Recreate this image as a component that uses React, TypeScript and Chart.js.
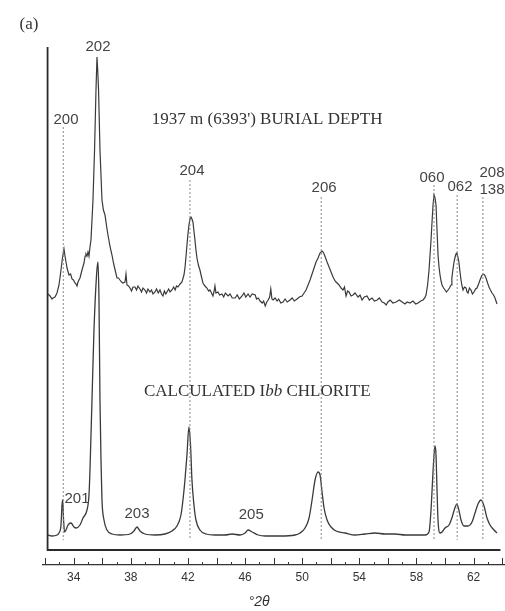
import { useEffect, useRef } from 'react';
import { Chart, registerables } from 'chart.js';

Chart.register(...registerables);

// ---- data (°2θ, relative intensity) ----
const thetaTicks = [34, 38, 42, 46, 50, 54, 58, 62];

const burialDepthPattern: [number, number][] = [
  [32.20, 256], [32.34, 254], [32.48, 251], [32.55, 252], [32.69, 253], [32.83, 257], [32.97, 265],
  [33.11, 280], [33.22, 293], [33.32, 301], [33.39, 294], [33.46, 288], [33.55, 281], [33.67, 275],
  [33.78, 276], [33.88, 271], [33.98, 270], [34.09, 267], [34.16, 266], [34.23, 264], [34.30, 268],
  [34.44, 272], [34.58, 280], [34.72, 287], [34.80, 294], [34.86, 296], [34.93, 294], [35.00, 298],
  [35.07, 294], [35.14, 303], [35.21, 310], [35.28, 330], [35.35, 350], [35.46, 400], [35.56, 460],
  [35.63, 493], [35.68, 480], [35.74, 460], [35.84, 400], [35.98, 350], [36.08, 340], [36.19, 335],
  [36.30, 324], [36.40, 315], [36.55, 303], [36.68, 295], [36.80, 286], [36.90, 280], [37.03, 272],
  [37.14, 272], [37.24, 270], [37.35, 268], [37.45, 267], [37.59, 268], [37.66, 276], [37.73, 265],
  [37.84, 264], [37.94, 262], [38.05, 259], [38.15, 263], [38.29, 263], [38.40, 260], [38.50, 264],
  [38.64, 261], [38.75, 258], [38.85, 262], [38.99, 260], [39.10, 257], [39.20, 261], [39.34, 258],
  [39.45, 260], [39.55, 256], [39.69, 258], [39.80, 261], [39.92, 257], [40.04, 260], [40.15, 256],
  [40.25, 254], [40.35, 259], [40.45, 256], [40.53, 258], [40.65, 261], [40.75, 258], [40.88, 260],
  [41.00, 263], [41.10, 260], [41.20, 264], [41.30, 263], [41.45, 266], [41.58, 268], [41.72, 275],
  [41.79, 282], [41.86, 293], [41.93, 305], [42.00, 316], [42.07, 325], [42.14, 331], [42.21, 333],
  [42.28, 331], [42.35, 328], [42.42, 319], [42.49, 310], [42.56, 300], [42.63, 292], [42.73, 285],
  [42.84, 280], [42.95, 273], [43.05, 267], [43.19, 264], [43.33, 262], [43.45, 259], [43.54, 260],
  [43.65, 257], [43.75, 254], [43.82, 258], [43.89, 264], [43.96, 257], [44.10, 258], [44.22, 255],
  [44.38, 256], [44.50, 253], [44.62, 257], [44.81, 254], [44.95, 256], [45.10, 252], [45.30, 252],
  [45.45, 255], [45.60, 251], [45.79, 254], [45.92, 257], [46.05, 253], [46.21, 256], [46.35, 253],
  [46.50, 256], [46.71, 255], [46.80, 251], [46.92, 252], [47.05, 249], [47.20, 247], [47.30, 249],
  [47.41, 244], [47.52, 248], [47.62, 250], [47.72, 253], [47.80, 261], [47.88, 251], [47.96, 250],
  [48.10, 252], [48.24, 249], [48.35, 251], [48.50, 247], [48.66, 248], [48.80, 251], [48.95, 248],
  [49.15, 250], [49.30, 252], [49.45, 249], [49.64, 251], [49.80, 253], [49.99, 254], [50.13, 257],
  [50.27, 260], [50.41, 265], [50.55, 270], [50.69, 276], [50.83, 282], [50.97, 288], [51.11, 292],
  [51.25, 297], [51.39, 299], [51.46, 298], [51.53, 296], [51.64, 292], [51.74, 288], [51.88, 283],
  [52.02, 278], [52.16, 273], [52.30, 269], [52.44, 267], [52.58, 265], [52.72, 262], [52.86, 260],
  [52.96, 263], [53.07, 254], [53.18, 259], [53.28, 258], [53.42, 254], [53.56, 255], [53.70, 257],
  [53.91, 253], [54.05, 255], [54.19, 250], [54.35, 253], [54.54, 254], [54.70, 250], [54.89, 252],
  [55.05, 249], [55.25, 250], [55.40, 252], [55.60, 248], [55.75, 247], [55.88, 245], [56.00, 248],
  [56.16, 250], [56.35, 247], [56.58, 248], [56.80, 250], [57.00, 248], [57.20, 246], [57.35, 248],
  [57.55, 247], [57.75, 249], [57.95, 246], [58.11, 247], [58.30, 249], [58.46, 250], [58.58, 252],
  [58.67, 255], [58.78, 265], [58.88, 280], [58.95, 295], [59.02, 310], [59.09, 328], [59.16, 345],
  [59.23, 355], [59.30, 352], [59.37, 345], [59.44, 320], [59.51, 295], [59.58, 283], [59.65, 275],
  [59.72, 269], [59.79, 265], [59.90, 262], [60.00, 260], [60.10, 258], [60.21, 260], [60.31, 262],
  [60.42, 265], [60.48, 272], [60.55, 280], [60.62, 287], [60.69, 292], [60.76, 296], [60.83, 297],
  [60.90, 293], [60.97, 288], [61.05, 278], [61.12, 270], [61.19, 264], [61.26, 260], [61.36, 263],
  [61.47, 262], [61.54, 258], [61.61, 257], [61.71, 262], [61.82, 260], [61.92, 256], [62.03, 258],
  [62.14, 261], [62.24, 262], [62.35, 266], [62.45, 270], [62.56, 274], [62.66, 276], [62.77, 275],
  [62.87, 272], [62.98, 267], [63.08, 263], [63.18, 260], [63.29, 257], [63.40, 255], [63.50, 252],
  [63.57, 249], [63.64, 246],
];

const calculatedPattern: [number, number][] = [
  [32.17, 15], [32.48, 14], [32.83, 15], [32.97, 17], [33.11, 25], [33.18, 45], [33.23, 50],
  [33.29, 30], [33.36, 18], [33.46, 20], [33.60, 25], [33.81, 27], [34.02, 23], [34.16, 22],
  [34.44, 25], [34.65, 32], [34.93, 40], [35.07, 55], [35.14, 80], [35.28, 150], [35.42, 220],
  [35.60, 275], [35.70, 288], [35.77, 250], [35.84, 150], [35.91, 90], [35.98, 50], [36.12, 30],
  [36.33, 20], [36.68, 16], [37.24, 15], [37.94, 16], [38.22, 19], [38.43, 23], [38.64, 19],
  [38.99, 16], [39.69, 15], [40.39, 16], [40.88, 19], [41.23, 24], [41.51, 35], [41.65, 50],
  [41.79, 70], [41.93, 95], [42.07, 123], [42.18, 105], [42.28, 70], [42.42, 45], [42.56, 30],
  [42.84, 20], [43.26, 16], [43.89, 15], [44.59, 15], [45.09, 16], [45.65, 15], [46.00, 17],
  [46.21, 20], [46.50, 18], [46.92, 15], [47.41, 14], [48.45, 14], [49.50, 15], [49.85, 17],
  [50.20, 22], [50.48, 32], [50.69, 50], [50.90, 70], [51.11, 78], [51.25, 75], [51.39, 58],
  [51.53, 42], [51.74, 30], [52.02, 23], [52.37, 19], [53.00, 17], [53.70, 15], [54.40, 16],
  [55.10, 17], [55.81, 16], [56.51, 16], [57.21, 15], [57.90, 15], [58.60, 15], [58.88, 18],
  [59.02, 40], [59.13, 70], [59.23, 95], [59.30, 104], [59.37, 95], [59.44, 60], [59.51, 30],
  [59.65, 17], [59.79, 18], [60.00, 22], [60.28, 25], [60.48, 32], [60.69, 42], [60.83, 46],
  [60.97, 40], [61.12, 30], [61.33, 24], [61.61, 24], [61.89, 28], [62.10, 37], [62.31, 46],
  [62.52, 50], [62.73, 44], [62.94, 32], [63.15, 25], [63.43, 20], [63.64, 17],
];

// reflection positions (°2θ) and the intensity level where each marker line starts
const reflectionTheta = [33.27, 42.14, 51.33, 59.23, 60.85, 62.65];
const reflectionTop = [423, 370, 353, 365, 355, 353];
const reflectionBottom = 10;

const frameTheta = [32.17, 32.17, 63.88];
const frameLevel = [503, 0, 0];

// annotation texts anchored in data coordinates (°2θ, intensity level)
const hklLabels = ['202', '200', '204', '206', '060', '062', '208', '138', '201', '203', '205'];
const hklTheta = [35.70, 33.46, 42.28, 51.53, 59.09, 61.05, 63.29, 63.29, 34.23, 38.43, 46.43];
const hklLevel = [503, 430, 379, 362, 372, 363, 377, 360, 51, 36, 35];

const titleUpper = "1937 m (6393') BURIAL DEPTH";

const annotate = {
  id: 'annotate',
  afterDraw(chart: any) {
    const { ctx, scales } = chart;
    const x = scales.x;
    const y = scales.y;
    ctx.save();
    // upward tick marks on the 2θ axis
    const base = chart.chartArea.bottom;
    ctx.strokeStyle = '#333';
    ctx.lineWidth = 1;
    for (let d = 32; d <= 64; d++) {
      const px = Math.round(x.getPixelForValue(d)) + 0.5;
      const len = d % 2 === 0 ? 7 : 3;
      ctx.beginPath();
      ctx.moveTo(px, base);
      ctx.lineTo(px, base - len);
      ctx.stroke();
    }
    ctx.textAlign = 'center';
    ctx.textBaseline = 'middle';
    ctx.fillStyle = '#444';
    ctx.font = '15px "Liberation Sans", Arial, sans-serif';
    hklLabels.forEach((t, i) => {
      ctx.fillText(t, x.getPixelForValue(hklTheta[i]), y.getPixelForValue(hklLevel[i]));
    });
    ctx.fillStyle = '#333';
    ctx.font = '17px "Liberation Serif", "Times New Roman", serif';
    ctx.fillText('(a)', x.getPixelForValue(30.87), y.getPixelForValue(525));
    ctx.fillText(titleUpper, x.getPixelForValue(47.54), y.getPixelForValue(430));
    // CALCULATED Ibb CHLORITE with italic "bb"
    const parts: [string, string][] = [
      ['CALCULATED I', '17px "Liberation Serif", serif'],
      ['bb', 'italic 17px "Liberation Serif", serif'],
      [' CHLORITE', '17px "Liberation Serif", serif'],
    ];
    let total = 0;
    parts.forEach(([t, f]) => { ctx.font = f; total += ctx.measureText(t).width; });
    let cx = x.getPixelForValue(46.85) - total / 2;
    const cy = y.getPixelForValue(158);
    ctx.textAlign = 'left';
    parts.forEach(([t, f]) => {
      ctx.font = f;
      ctx.fillText(t, cx, cy);
      cx += ctx.measureText(t).width;
    });
    ctx.textAlign = 'center';
    ctx.fillStyle = '#333';
    ctx.font = 'italic 14px "Liberation Sans", Arial, sans-serif';
    ctx.fillText('°2θ', x.getPixelForValue(46.98), y.getPixelForValue(-52));
    ctx.restore();
  },
};

export default function App() {
  const ref = useRef<HTMLCanvasElement | null>(null);
  useEffect(() => {
    if (!ref.current) return;
    const toXY = (arr: [number, number][]) => arr.map(([a, b]) => ({ x: a, y: b }));
    const reflectionSets = reflectionTheta.map((t, i) => ({
      data: [{ x: t, y: reflectionTop[i] }, { x: t, y: reflectionBottom }],
      borderColor: '#8a8a8a',
      borderWidth: 1,
      borderDash: [2, 2],
      tension: 0,
    }));
    const chart = new Chart(ref.current, {
      type: 'line',
      data: {
        datasets: [
          ...reflectionSets,
          {
            data: toXY(burialDepthPattern),
            borderColor: '#3a3a3a',
            borderWidth: 1.2,
            tension: 0,
          },
          {
            data: toXY(calculatedPattern),
            borderColor: '#3a3a3a',
            borderWidth: 1.3,
            cubicInterpolationMode: 'monotone',
          },
          {
            data: frameTheta.map((t, i) => ({ x: t, y: frameLevel[i] })),
            borderColor: '#2a2a2a',
            borderWidth: 1.8,
            tension: 0,
          },
        ] as any,
      },
      options: {
        animation: false,
        responsive: false,
        events: [],
        layout: { padding: { left: 43, right: 0, top: 0, bottom: 0 } },
        elements: { point: { radius: 0 }, line: { fill: false } },
        plugins: { legend: { display: false }, tooltip: { enabled: false } },
        scales: {
          x: {
            type: 'linear',
            min: 31.85,
            max: 64.2,
            afterBuildTicks: (axis: any) => {
              axis.ticks = thetaTicks.map((v) => ({ value: v }));
            },
            afterFit: (axis: any) => {
              axis.height = 46;
            },
            grid: { display: true, drawOnChartArea: false, drawTicks: false },
            border: { display: true, color: '#333', width: 1.3 },
            ticks: {
              padding: 5,
              color: '#333',
              font: { family: '"Liberation Sans", Arial, sans-serif', size: 12 },
              callback: (v: any) => String(v),
              maxRotation: 0,
              autoSkip: false,
            },
          },
          y: {
            type: 'linear',
            display: false,
            min: -15,
            max: 550,
          },
        },
      } as any,
      plugins: [annotate],
    });
    return () => chart.destroy();
  }, []);
  return (
    <div style={{ position: 'fixed', left: 0, top: 0, width: 505, height: 611, background: '#fff' }}>
      <canvas ref={ref} width={505} height={611} style={{ display: 'block' }} />
    </div>
  );
}
